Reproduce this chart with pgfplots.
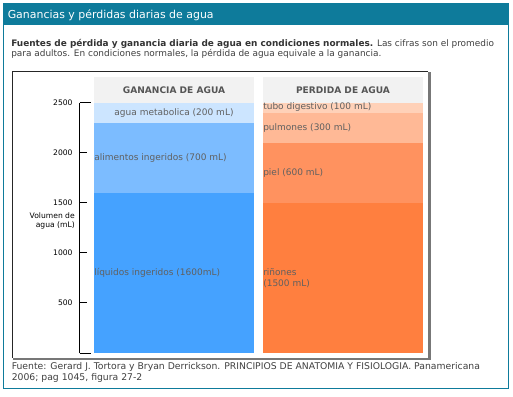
\documentclass[border=0pt]{standalone}
\usepackage{pgfplots}
\pgfplotsset{compat=1.18}
\usepackage{fontspec}
\setmainfont{DejaVu Sans}
\definecolor{tealc}{HTML}{0E7B9B}
\definecolor{hdr}{HTML}{F2F2F2}
\definecolor{hdrtxt}{HTML}{555555}
\definecolor{lbltxt}{HTML}{606060}
\definecolor{bodytxt}{HTML}{404040}
\definecolor{bA}{HTML}{CCE5FF}
\definecolor{bB}{HTML}{7CBCFF}
\definecolor{bC}{HTML}{45A2FF}
\definecolor{oA}{HTML}{FFD1B8}
\definecolor{oB}{HTML}{FFB996}
\definecolor{oC}{HTML}{FF925F}
\definecolor{oD}{HTML}{FF7F3F}
\definecolor{shadow}{HTML}{777777}
\tikzset{lbl/.style={inner sep=0pt, text=lbltxt, font=\fontsize{6.75}{8.5}\selectfont}}
\begin{document}
\begin{tikzpicture}[x=0.75pt,y=-0.75pt]
\fill[white] (0,0) rectangle (513,396);
% outer teal frame and title bar
\draw[tealc, line width=0.9pt] (3.5,3.5) rectangle (508.5,388.5);
\fill[tealc] (3,3) rectangle (509,25);
\node[anchor=base west, inner sep=0pt, text=white, font=\fontsize{8.2}{10}\selectfont] at (7.5,18) {Ganancias y pérdidas diarias de agua};
% subtitle
\node[anchor=base west, inner sep=0pt, text=bodytxt, font=\fontsize{6.7}{8}\selectfont] at (11,46.5) {\textcolor[HTML]{333333}{\bfseries Fuentes de pérdida y ganancia diaria de agua en condiciones normales.} Las cifras son el promedio};
\node[anchor=base west, inner sep=0pt, text=bodytxt, font=\fontsize{6.7}{8}\selectfont] at (11,56.5) {para adultos. En condiciones normales, la pérdida de agua equivale a la ganancia.};
% chart frame
\draw[shadow, line width=1.9pt] (429.3,72) -- (429.3,359) -- (13,359);
\draw[black!85, line width=0.9pt] (12.5,357.5) -- (12.5,71.5) -- (428,71.5);
% headers
\fill[hdr] (94,77) rectangle (254,102.5);
\fill[hdr] (263,77) rectangle (423,102.5);
\node[anchor=base, inner sep=0pt, text=hdrtxt, font=\fontsize{6.8}{8}\selectfont\bfseries] at (174,93.3) {GANANCIA DE AGUA};
\node[anchor=base, inner sep=0pt, text=hdrtxt, font=\fontsize{6.8}{8}\selectfont\bfseries] at (343,93.3) {PERDIDA DE AGUA};
% y label
\node[anchor=east, inner sep=0pt, align=right, font=\fontsize{5.7}{7}\selectfont] at (75,221) {Volumen de\\agua (mL)};
% source
\node[anchor=base west, inner sep=0pt, text=bodytxt, font=\fontsize{6.95}{8}\selectfont] at (11.5,369.5) {Fuente: Gerard J. Tortora y Bryan Derrickson. PRINCIPIOS DE ANATOMIA Y FISIOLOGIA. Panamericana};
\node[anchor=base west, inner sep=0pt, text=bodytxt, font=\fontsize{6.95}{8}\selectfont] at (11.5,380) {2006; pag 1045, figura 27-2};
\begin{axis}[
  at={(79.5*0.75pt,-353*0.75pt)}, anchor=south west,
  scale only axis, width=257.625pt, height=187.875pt,
  xmin=-0.5592, xmax=1.4734, ymin=0, ymax=2500,
  axis x line=none, axis y line*=left,
  y axis line style={-, line width=0.75pt, black},
  ytick={500,1000,1500,2000},
  extra y ticks={0,2500}, extra y tick labels={,2500},
  extra y tick style={major tick length=8.25pt},
  major tick length=5.25pt, tick align=inside,
  tick style={black, line width=0.75pt},
  yticklabel style={font=\fontsize{5.7}{6}\selectfont, inner sep=0pt, xshift=-5pt},
  /pgf/number format/assume math mode=true,
  /pgf/number format/1000 sep={},
  ybar stacked, bar width=120pt,
  clip=false,
]
\addplot[fill=bC, draw=none] coordinates {(0,1600) (1,0)};
\addplot[fill=oD, draw=none] coordinates {(0,0) (1,1500)};
\addplot[fill=bB, draw=none] coordinates {(0,700) (1,0)};
\addplot[fill=oC, draw=none] coordinates {(0,0) (1,600)};
\addplot[fill=bA, draw=none] coordinates {(0,200) (1,0)};
\addplot[fill=oB, draw=none] coordinates {(0,0) (1,300)};
\addplot[fill=oA, draw=none] coordinates {(0,0) (1,100)};
\coordinate (gA) at (axis cs:0,2400);
\coordinate (gB) at (axis cs:0,1950);
\coordinate (gC) at (axis cs:0,800);
\coordinate (lA) at (axis cs:1,2450);
\coordinate (lB) at (axis cs:1,2250);
\coordinate (lC) at (axis cs:1,1800);
\coordinate (lD) at (axis cs:1,750);
\end{axis}
\node[lbl, anchor=center] at (gA) {agua metabolica (200 mL)};
\node[lbl, anchor=west, xshift=-60pt] at (gB) {alimentos ingeridos (700 mL)};
\node[lbl, anchor=west, xshift=-60pt] at (gC) {líquidos ingeridos (1600mL)};
\node[lbl, anchor=west, xshift=-60pt] at (lA) {tubo digestivo (100 mL)};
\node[lbl, anchor=west, xshift=-60pt] at (lB) {pulmones (300 mL)};
\node[lbl, anchor=west, xshift=-60pt] at (lC) {piel (600 mL)};
\node[lbl, anchor=west, xshift=-60pt, align=left] at (lD) {riñones\\(1500 mL)};
\end{tikzpicture}
\end{document}
